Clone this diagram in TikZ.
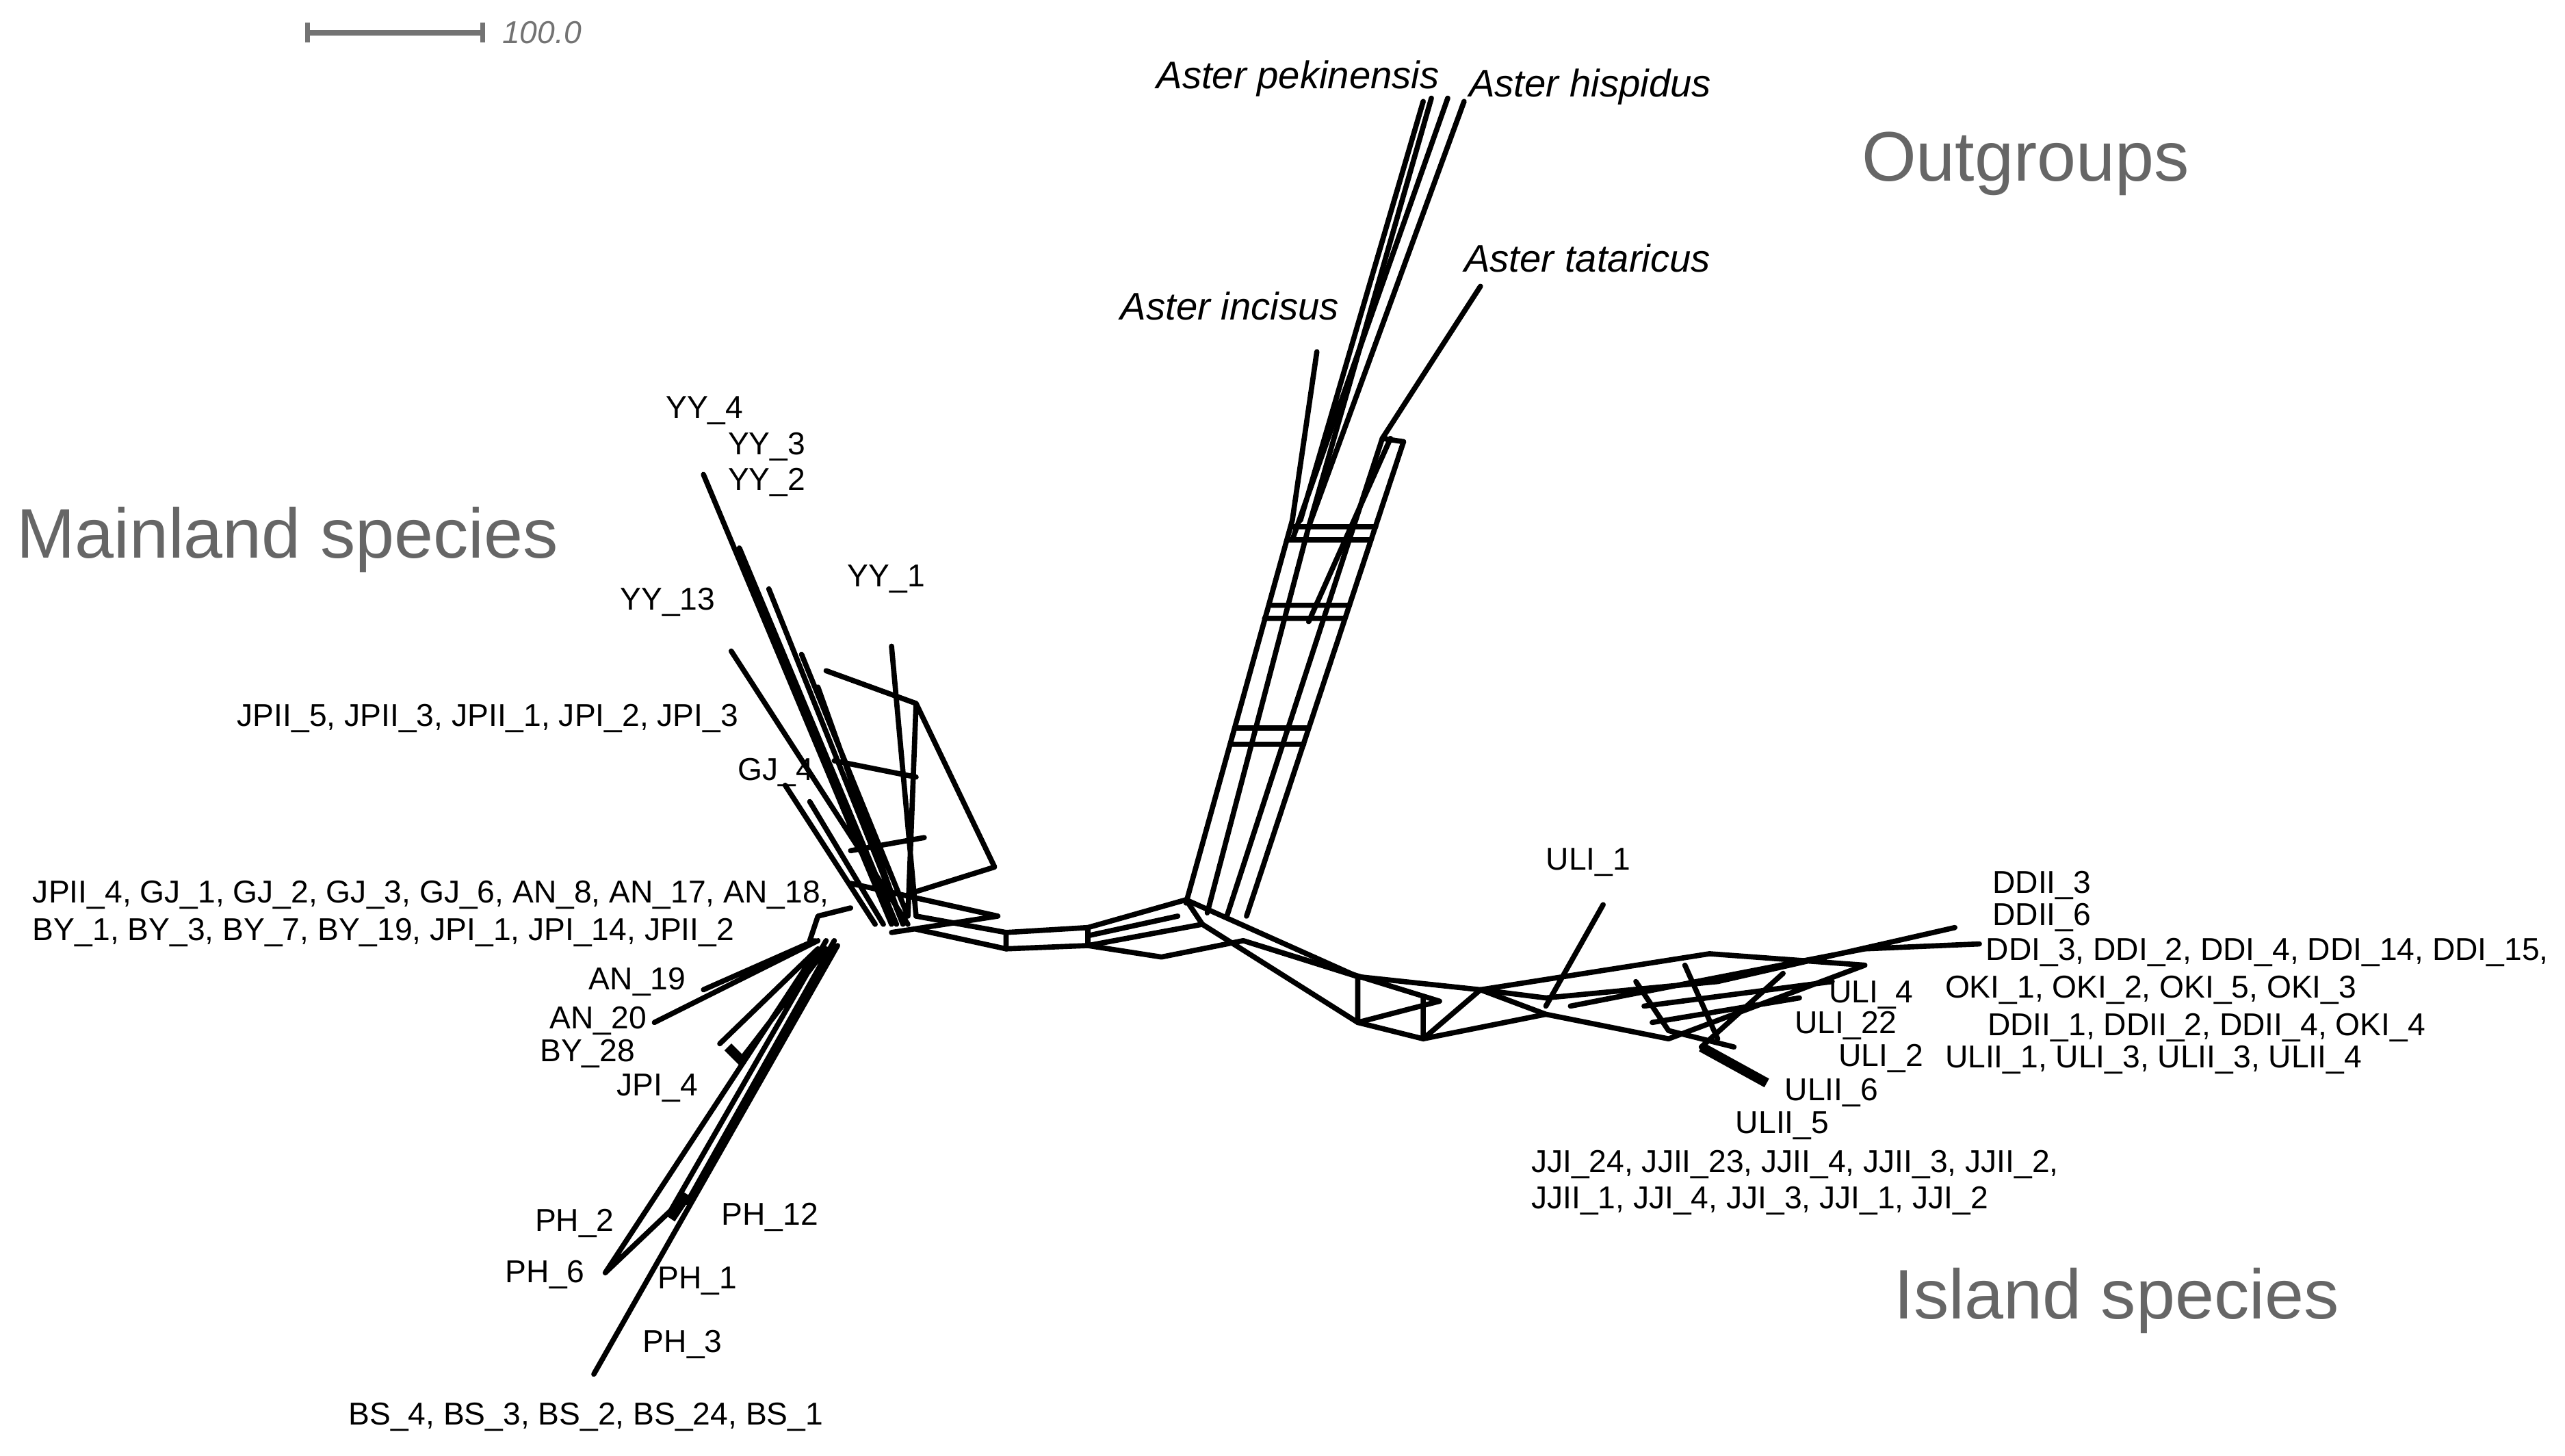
\documentclass[tikz,border=0pt]{standalone}
\usepackage{fontspec}
\setmainfont{Liberation Sans}
\begin{document}
\begin{tikzpicture}[x=1mm,y=-1mm,
  net/.style={line width=3.2mm,line join=round,line cap=round},
  lab/.style={anchor=west,inner sep=0pt,font=\fontsize{55}{60}\selectfont},
  sp/.style={anchor=west,inner sep=0pt,font=\fontsize{67}{72}\selectfont\itshape},
  ttl/.style={anchor=west,inner sep=0pt,text=black!60,font=\fontsize{122}{134}\selectfont}]
\useasboundingbox (0,0) rectangle (1568,890);
% scale bar
\draw[line width=3.4mm,black!55] (188,20) -- (295,20);
\draw[line width=3mm,black!55] (188,14) -- (188,26) (295,14) -- (295,26);
\node[anchor=west,inner sep=0pt,text=black!55,font=\fontsize{55}{60}\selectfont\itshape] (sc) at (307,20) {100.0};
% central backbone
\draw[net] (560,560)--(615,570)--(665,567)--(725,550)--(830,597)--(905,605)--(945,610);
\draw[net] (560,568)--(615,580)--(665,578)--(735,565)--(830,625)--(870,635)--(945,620);
\draw[net] (615,570)--(615,580) (665,567)--(665,578) (725,550)--(735,565)
 (665,572)--(720,560) (665,578)--(710,585) (710,585)--(760,575)--(880,612)--(830,625)
 (760,575)--(830,597) (830,597)--(830,625) (870,635)--(905,605) (870,610)--(870,635);
% outgroup bands
\draw[net] (725,552)--(790,318)--(805,215);
\draw[net] (738,558)--(800,322)--(875,60);
\draw[net] (750,560)--(845,268)--(905,175);
\draw[net] (762,560)--(858,270);
\draw[net] (800,322)--(895,62) (795,318)--(870,62) (845,268)--(858,270)
 (752,455)--(797,455) (755,445)--(800,445) (773,378)--(822,378) (776,370)--(825,370)
 (787,330)--(838,330) (790,322)--(841,322) (800,380)--(850,268) (790,330)--(885,60);
% mainland fan
\draw[net] (545,565)--(430,290) (548,565)--(452,335) (552,565)--(470,360)
 (555,565)--(447,398) (540,565)--(495,490) (535,565)--(480,480)
 (560,560)--(545,395) (550,560)--(500,420) (555,560)--(490,400)
 (505,410)--(560,430)--(608,530)--(560,545) (510,465)--(560,475)
 (560,430)--(555,560) (520,520)--(565,512) (520,540)--(610,560)--(545,570)
 (498,575)--(430,605) (500,575)--(400,625) (500,580)--(440,638) (505,580)--(455,645)
 (505,575)--(410,740) (510,575)--(420,735) (500,580)--(370,778) (512,578)--(363,840)
 (410,740)--(370,778) (520,555)--(500,560)--(495,575);
\draw[line width=6mm] (455,650)--(445,640) (420,730)--(410,745);
% island
\draw[net] (945,620)--(905,605)--(1045,583)--(1140,590)--(1020,635)--(945,620)
 (945,610)--(1050,600)--(1195,567) (960,615)--(1140,580)--(1210,577)
 (1000,600)--(1020,630)--(1060,640) (1030,590)--(1050,635) (1090,595)--(1040,640)
 (980,553)--(945,615) (1005,615)--(1120,600) (1010,625)--(1100,610);
\draw[line width=6mm] (1040,640)--(1080,662);
% labels
\node[lab] (yy4) at (407,251) {YY\_4};
\node[lab] (yy3) at (445,273) {YY\_3};
\node[lab] (yy2) at (445,295) {YY\_2};
\node[lab] (yy1) at (518,354) {YY\_1};
\node[lab] (yy13) at (379,368) {YY\_13};
\node[lab] (jp) at (145,439) {JPII\_5, JPII\_3, JPII\_1, JPI\_2, JPI\_3};
\node[lab] (gj4) at (451,472) {GJ\_4};
\node[lab] (jp4) at (20,547) {JPII\_4, GJ\_1, GJ\_2, GJ\_3, GJ\_6, AN\_8, AN\_17, AN\_18,};
\node[lab] (by1) at (20,570) {BY\_1, BY\_3, BY\_7, BY\_19, JPI\_1, JPI\_14, JPII\_2};
\node[lab] (an19) at (360,600) {AN\_19};
\node[lab] (an20) at (336,624) {AN\_20};
\node[lab] (by28) at (330,644) {BY\_28};
\node[lab] (jpi4) at (377,665) {JPI\_4};
\node[lab] (ph2) at (327,748) {PH\_2};
\node[lab] (ph12) at (441,744) {PH\_12};
\node[lab] (ph6) at (309,779) {PH\_6};
\node[lab] (ph1) at (402,783) {PH\_1};
\node[lab] (ph3) at (393,822) {PH\_3};
\node[lab] (bs) at (213,866) {BS\_4, BS\_3, BS\_2, BS\_24, BS\_1};
\node[sp] (ap) at (707,48) {Aster pekinensis};
\node[sp] (ah) at (898,53) {Aster hispidus};
\node[sp] (at) at (895,158) {Aster tataricus};
\node[sp] (ai) at (685,187) {Aster incisus};
\node[ttl] (og) at (1138,100) {Outgroups};
\node[ttl] (ms) at (10,330) {Mainland species};
\node[ttl] (is) at (1158,795) {Island species};
\node[lab] (uli1) at (945,527) {ULI\_1};
\node[lab] (dd3) at (1218,541) {DDII\_3};
\node[lab] (dd6) at (1218,561) {DDII\_6};
\node[lab] (ddi) at (1214,582) {DDI\_3, DDI\_2, DDI\_4, DDI\_14, DDI\_15,};
\node[lab] (oki) at (1189,605) {OKI\_1, OKI\_2, OKI\_5, OKI\_3};
\node[lab] (uli4) at (1118,608) {ULI\_4};
\node[lab] (uli22) at (1097,627) {ULI\_22};
\node[lab] (ddii1) at (1215,628) {DDII\_1, DDII\_2, DDII\_4, OKI\_4};
\node[lab] (uli2) at (1124,647) {ULI\_2};
\node[lab] (ulii1) at (1189,648) {ULII\_1, ULI\_3, ULII\_3, ULII\_4};
\node[lab] (ulii6) at (1091,668) {ULII\_6};
\node[lab] (ulii5) at (1061,688) {ULII\_5};
\node[lab] (jji) at (936,712) {JJI\_24, JJII\_23, JJII\_4, JJII\_3, JJII\_2,};
\node[lab] (jjii) at (936,734) {JJII\_1, JJI\_4, JJI\_3, JJI\_1, JJI\_2};
\end{tikzpicture}
\end{document}
